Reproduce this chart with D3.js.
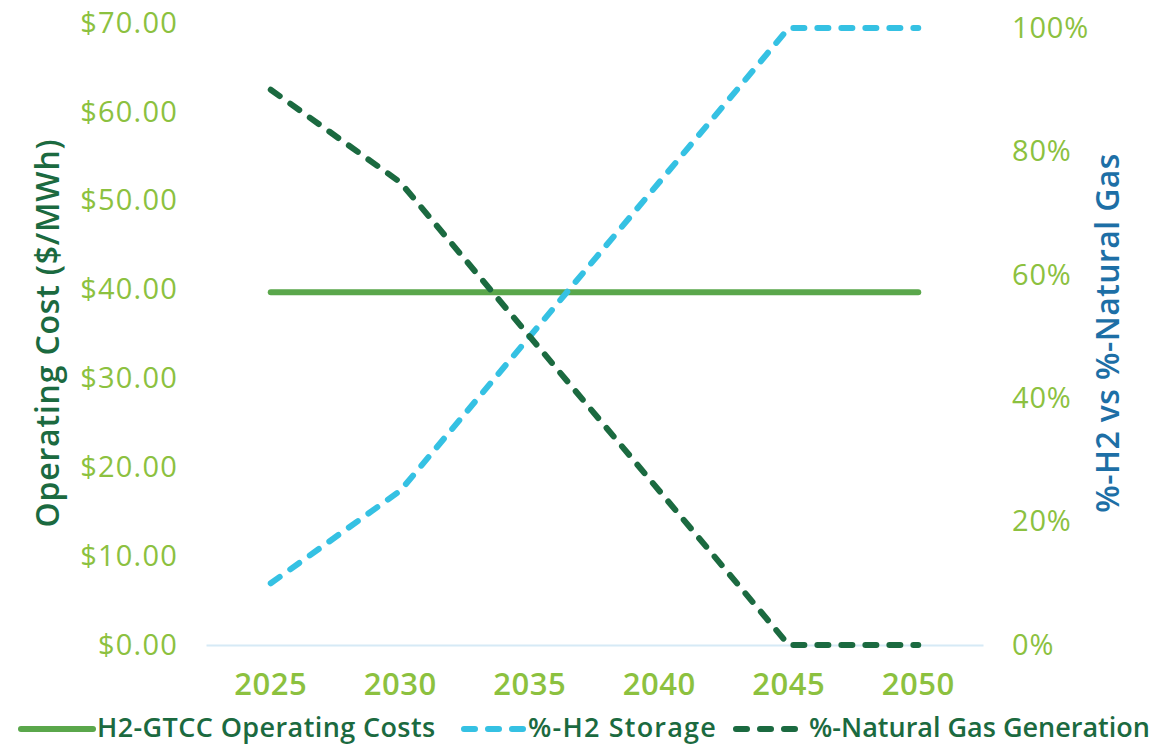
<!DOCTYPE html>
<html>
<head>
<meta charset="utf-8">
<script src="https://cdn.jsdelivr.net/npm/d3@7"></script>
<style>
  body { margin: 0; background: #ffffff; }
  svg { display: block; font-family: "Open Sans", sans-serif; }
</style>
</head>
<body>
<div id="container"></div>
<script>
// chart values
const years = ["2025", "2030", "2035", "2040", "2045", "2050"];
const opCost = [39.7, 39.7, 39.7, 39.7, 39.7, 39.7];
const h2Storage = [0.10, 0.25, 0.50, 0.75, 1.00, 1.00];
const ngGen = [0.90, 0.75, 0.50, 0.25, 0.00, 0.00];
const costTicks = [0, 10, 20, 30, 40, 50, 60, 70];
const pctTicks = [0, 0.2, 0.4, 0.6, 0.8, 1.0];
const legendNames = ["H2-GTCC Operating Costs", "%-H2 Storage", "%-Natural Gas Generation"];

const width = 1173, height = 745;
const tickGreen = "#8cc13f",
    darkGreen = "#1b6a40",
    solidGreen = "#5aa74b",
    skyBlue = "#35c1e3",
    titleBlue = "#1d6fa6";

const svg = d3.select("#container").append("svg")
    .attr("width", width)
    .attr("height", height);

var x = d3.scaleBand()
    .domain(years)
    .range([206, 983])
    .padding(0);

var yCost = d3.scaleLinear()
    .domain([0, 70])
    .range([645, 23]);

var yPct = d3.scaleLinear()
    .domain([0, 1])
    .range([645, 28]);

function xc(i) { return x(years[i]) + x.bandwidth() / 2; }

// bottom axis: only the light baseline and the year labels
var xx = svg.append("g")
    .attr("transform", "translate(0,645)")
    .call(d3.axisBottom(x).tickSize(0).tickSizeOuter(0).tickPadding(28));
xx.select(".domain").attr("stroke", "#d6eaf6").attr("stroke-width", 2);
xx.selectAll("text")
    .attr("fill", tickGreen)
    .attr("font-size", 31)
    .attr("font-weight", 600)
    .attr("letter-spacing", 0.5)
    .attr("font-family", "Open Sans");

var yl = svg.append("g")
    .attr("transform", "translate(206,0)")
    .call(d3.axisLeft(yCost).tickValues(costTicks).tickSize(0).tickPadding(28)
        .tickFormat(d => "$" + d3.format(".2f")(d)));
yl.select(".domain").remove();
yl.selectAll("text")
    .attr("fill", tickGreen)
    .attr("font-size", 29)
    .attr("letter-spacing", 1.2)
    .attr("font-family", "Open Sans");

var yr = svg.append("g")
    .attr("transform", "translate(983,0)")
    .call(d3.axisRight(yPct).tickValues(pctTicks).tickSize(0).tickPadding(29)
        .tickFormat(d3.format(".0%")));
yr.select(".domain").remove();
yr.selectAll("text")
    .attr("fill", tickGreen)
    .attr("font-size", 29)
    .attr("letter-spacing", 0.8)
    .attr("font-family", "Open Sans");

// axis titles
svg.append("text")
    .attr("transform", "translate(48,333) rotate(-90)")
    .attr("text-anchor", "middle")
    .attr("dy", "0.35em")
    .attr("fill", darkGreen)
    .attr("font-size", 32)
    .attr("font-weight", 600)
    .attr("letter-spacing", 0.8)
    .text("Operating Cost ($/MWh)");

svg.append("text")
    .attr("transform", "translate(1108,333) rotate(-90)")
    .attr("text-anchor", "middle")
    .attr("dy", "0.35em")
    .attr("fill", titleBlue)
    .attr("font-size", 32)
    .attr("font-weight", 600)
    .attr("letter-spacing", 0.4)
    .text("%-H2 vs %-Natural Gas");

function addLine(vals, yScale, col, dash) {
    svg.append("path")
        .datum(vals)
        .attr("fill", "none")
        .attr("stroke", col)
        .attr("stroke-width", 6)
        .attr("stroke-linecap", "round")
        .attr("stroke-linejoin", "round")
        .attr("stroke-dasharray", dash)
        .attr("d", d3.line()
            .x((_, i) => xc(i))
            .y(d => yScale(d)));
}

addLine(opCost, yCost, solidGreen, null);
addLine(h2Storage, yPct, skyBlue, "11,13");
addLine(ngGen, yPct, darkGreen, "11,13");

// legend
const legendItems = [
    { name: legendNames[0], col: solidGreen, dash: null, x0: 21, x1: 93, tx: 97, ls: 0.4 },
    { name: legendNames[1], col: skyBlue, dash: "11,13", x0: 464, x1: 523, tx: 528, ls: 1.2 },
    { name: legendNames[2], col: darkGreen, dash: "11,13", x0: 736, x1: 796, tx: 809, ls: 0 }
];

var lg = svg.append("g");
legendItems.forEach(function(d) {
    lg.append("line")
        .attr("x1", d.x0).attr("x2", d.x1)
        .attr("y1", 729).attr("y2", 729)
        .attr("stroke", d.col)
        .attr("stroke-width", 6)
        .attr("stroke-linecap", "round")
        .attr("stroke-dasharray", d.dash);
    lg.append("text")
        .attr("x", d.tx)
        .attr("y", 737)
        .attr("fill", darkGreen)
        .attr("font-size", 27)
        .attr("font-weight", 600)
        .attr("letter-spacing", d.ls)
        .text(d.name);
});
</script>
</body>
</html>
